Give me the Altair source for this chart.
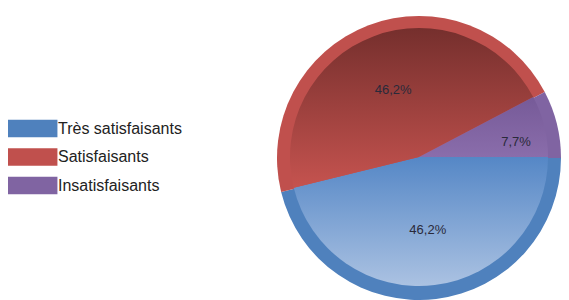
import math
import altair as alt
import pandas as pd

cats = ["Très satisfaisants", "Satisfaisants", "Insatisfaisants"]
pcts = [46.2, 46.2, 7.7]
labels = ["46,2%", "46,2%", "7,7%"]
ring = ["#4f81bd", "#c0504d", "#8064a2"]

df = pd.DataFrame({"cat": cats, "pct": pcts, "label": labels})

CX, CY = 411, 150

def grad(c1, c2):
    return {"gradient": "linear", "x1": 0, "y1": 0, "x2": 0, "y2": 1,
            "stops": [{"offset": 0, "color": c1}, {"offset": 1, "color": c2}]}

theta_scale = alt.Scale(range=[math.pi / 2, math.pi / 2 + 2 * math.pi])

base = alt.Chart(df).transform_window(idx="row_number()").encode(
    theta=alt.Theta("pct:Q", stack=True, scale=theta_scale),
    order=alt.Order("idx:Q"),
)

outer = base.mark_arc(outerRadius=142, x=CX, y=CY).encode(
    color=alt.Color(
        "cat:N",
        scale=alt.Scale(domain=cats, range=ring),
        sort=cats,
        legend=alt.Legend(
            title=None, orient="none", legendX=6, legendY=103,
            symbolType="M-1.5,-0.5L1.5,-0.5L1.5,0.5L-1.5,0.5Z",
            symbolSize=1196, symbolStrokeWidth=0, symbolOpacity=1,
            labelFontSize=16, labelFont="Liberation Sans", labelColor="#222222",
            labelOffset=9, rowPadding=1.5,
        ),
    )
)

fill_def = {
    "condition": [
        {"test": "datum.cat === 'Très satisfaisants'", "value": grad("#5587c6", "#abc2e2")},
        {"test": "datum.cat === 'Satisfaisants'", "value": grad("#752f2d", "#c5534f")},
    ],
    "value": grad("#765a98", "#8a6dab"),
}

inner = base.mark_arc(outerRadius=129, x=CX, y=CY - 1).encode(fill=fill_def)

text = base.mark_text(
    radius=alt.ExprRef("datum.pct < 10 ? 100 : 73"), x=CX, y=CY,
    dy=alt.ExprRef("datum.pct < 10 ? 8 : 0"),
    fontSize=13, font="Liberation Sans", color="#2a2a3a",
).encode(text="label:N")

chart = alt.layer(outer, inner, text).properties(
    width=553, height=292, padding=0,
    autosize=alt.AutoSizeParams(type="none"),
).configure_view(stroke=None)

chart.save("out.html", embed_options={"renderer": "svg", "actions": False})
